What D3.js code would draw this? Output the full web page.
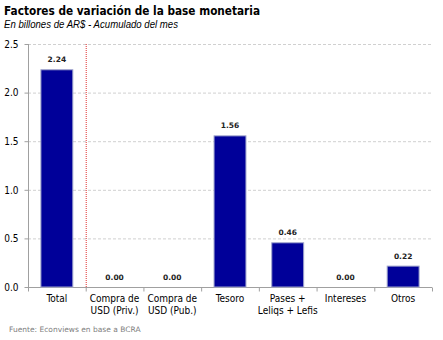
<!DOCTYPE html>
<html><head><meta charset="utf-8">
<script src="https://cdn.jsdelivr.net/npm/d3@7"></script>
<style>
body{margin:0;background:#fff;}
svg{display:block;font-family:Tahoma,"DejaVu Sans",sans-serif;}
</style></head><body>
<svg id="c" width="443" height="340"></svg>
<script>
const categories = [["Total"],["Compra de","USD (Priv.)"],["Compra de","USD (Pub.)"],["Tesoro"],["Pases +","Leliqs + Lefis"],["Intereses"],["Otros"]];
const values = [2.24, 0.00, 0.00, 1.56, 0.46, 0.00, 0.22];
const yTicks = [0, 0.5, 1.0, 1.5, 2.0, 2.5];

const svg = d3.select("#c");
const m = {l:28, r:432, t:44, b:287};
const x = d3.scaleBand().domain(d3.range(values.length)).range([m.l, m.r]).paddingInner(0.43).paddingOuter(0.215);
const xb = d3.scaleLinear().domain([0, values.length]).range([m.l, m.r]);
const y = d3.scaleLinear().domain([0, 2.5]).range([m.b, m.t]);

svg.append("text").attr("x",4).attr("y",15).attr("font-size",13).attr("font-weight","bold").attr("fill","#000")
  .attr("font-family","'DejaVu Sans','Liberation Sans',sans-serif")
  .attr("textLength",256).attr("lengthAdjust","spacingAndGlyphs")
  .text("Factores de variación de la base monetaria");
svg.append("text").attr("x",4).attr("y",28).attr("font-size",10).attr("font-style","italic").attr("fill","#000")
  .attr("font-family","'Liberation Sans',sans-serif")
  .attr("textLength",174).attr("lengthAdjust","spacingAndGlyphs")
  .text("En billones de AR$ - Acumulado del mes");

// gridlines
svg.append("g").selectAll("line").data(yTicks.filter(d=>d>0)).join("line")
  .attr("x1",m.l).attr("x2",m.r).attr("y1",d=>y(d)+0.5).attr("y2",d=>y(d)+0.5)
  .attr("stroke","#d0d0d0").attr("stroke-dasharray","3,2");

// y axis
const ya = svg.append("g").attr("transform",`translate(${m.l+0.5},0)`)
  .call(d3.axisLeft(y).tickValues(yTicks).tickFormat(d3.format(".1f")).tickSize(4).tickPadding(6));
ya.selectAll("path,line").attr("stroke","#a0a0a0");
ya.select(".domain").attr("d",`M0,${y(2.5)}V${y(0)}`);
ya.selectAll("text").attr("font-size",10).attr("fill","#000").attr("font-family","'DejaVu Sans Condensed','Liberation Sans',sans-serif");

// x axis
const xa = svg.append("g").attr("transform",`translate(0,${m.b+0.5})`)
  .call(d3.axisBottom(xb).tickValues(d3.range(values.length+1)).tickSize(4).tickFormat(""));
xa.selectAll("path,line").attr("stroke","#a0a0a0");
xa.select(".domain").attr("d",`M${m.l},0H${m.r}`);

// red dotted separator
svg.append("line").attr("x1",xb(1)+0.5).attr("x2",xb(1)+0.5).attr("y1",m.t).attr("y2",m.b)
  .attr("stroke","#e03030").attr("stroke-dasharray","1,1").attr("stroke-width",1);

// bars
svg.append("g").selectAll("rect").data(values).join("rect")
  .attr("x",(d,i)=>x(i)+0.5).attr("width",x.bandwidth()-1)
  .attr("y",d=>y(d)+0.5).attr("height",d=>Math.max(0,y(0)-y(d)-0.5))
  .attr("fill","#000099").attr("stroke",d=>d>0?"#9ea3cc":"none").attr("stroke-width",1);

// value labels
svg.append("g").selectAll("text").data(values).join("text")
  .attr("x",(d,i)=>x(i)+x.bandwidth()/2).attr("y",d=>y(d)-7)
  .attr("text-anchor","middle").attr("font-size",7.5).attr("font-weight","bold").attr("fill","#222")
  .attr("font-family","'DejaVu Sans','Liberation Sans',sans-serif")
  .text(d=>d3.format(".2f")(d));

// category labels
const cl = svg.append("g").selectAll("text").data(categories).join("text")
  .attr("x",(d,i)=>x(i)+x.bandwidth()/2).attr("y",302)
  .attr("text-anchor","middle").attr("font-size",10).attr("fill","#000")
  .attr("font-family","'DejaVu Sans Condensed','Liberation Sans',sans-serif");
cl.selectAll("tspan").data(d=>d).join("tspan")
  .attr("x",function(){return this.parentNode.getAttribute("x");})
  .attr("dy",(d,i)=>i===0?0:12).text(d=>d);

svg.append("text").attr("x",9).attr("y",332).attr("font-size",7.5).attr("fill","#808080")
  .attr("font-family","'DejaVu Sans','Liberation Sans',sans-serif")
  .text("Fuente: Econviews en base a BCRA");
</script></body></html>
